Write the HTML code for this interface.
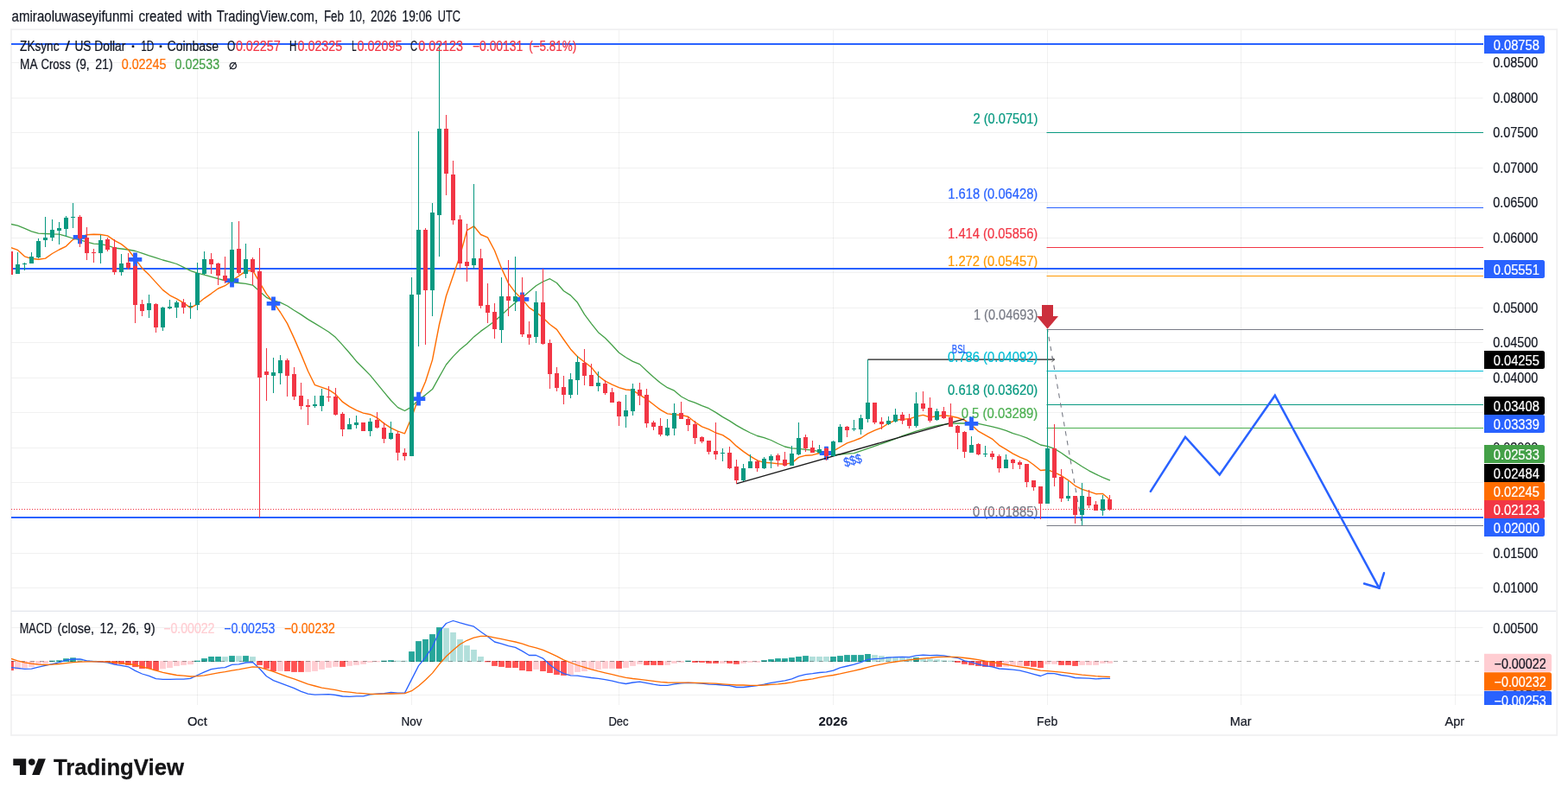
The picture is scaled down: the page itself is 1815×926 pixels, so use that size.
<!DOCTYPE html>
<html lang="en"><head><meta charset="utf-8"><title>ZKsync / US Dollar chart</title>
<style>html,body{margin:0;padding:0;background:#fff;}body{width:1815px;height:926px;overflow:hidden;font-family:"Liberation Sans", sans-serif;}svg{display:block}</style>
</head><body>
<svg width="1815" height="926" viewBox="0 0 1815 926" font-family='"Liberation Sans", sans-serif'><rect x="0" y="0" width="1815" height="926" fill="#ffffff"/>
<rect x="12.9" y="34.1" width="1789.3" height="816.9" fill="none" stroke="#f1f1f2" stroke-width="1.8"/>
<line x1="13.5" x2="1716.5" y1="680.50" y2="680.50" stroke="#000000" stroke-opacity="0.055" stroke-width="1.1"/>
<line x1="13.5" x2="1716.5" y1="640.50" y2="640.50" stroke="#000000" stroke-opacity="0.055" stroke-width="1.1"/>
<line x1="13.5" x2="1716.5" y1="599.50" y2="599.50" stroke="#000000" stroke-opacity="0.055" stroke-width="1.1"/>
<line x1="13.5" x2="1716.5" y1="558.50" y2="558.50" stroke="#000000" stroke-opacity="0.055" stroke-width="1.1"/>
<line x1="13.5" x2="1716.5" y1="518.50" y2="518.50" stroke="#000000" stroke-opacity="0.055" stroke-width="1.1"/>
<line x1="13.5" x2="1716.5" y1="477.50" y2="477.50" stroke="#000000" stroke-opacity="0.055" stroke-width="1.1"/>
<line x1="13.5" x2="1716.5" y1="437.50" y2="437.50" stroke="#000000" stroke-opacity="0.055" stroke-width="1.1"/>
<line x1="13.5" x2="1716.5" y1="396.50" y2="396.50" stroke="#000000" stroke-opacity="0.055" stroke-width="1.1"/>
<line x1="13.5" x2="1716.5" y1="356.50" y2="356.50" stroke="#000000" stroke-opacity="0.055" stroke-width="1.1"/>
<line x1="13.5" x2="1716.5" y1="315.50" y2="315.50" stroke="#000000" stroke-opacity="0.055" stroke-width="1.1"/>
<line x1="13.5" x2="1716.5" y1="275.50" y2="275.50" stroke="#000000" stroke-opacity="0.055" stroke-width="1.1"/>
<line x1="13.5" x2="1716.5" y1="234.50" y2="234.50" stroke="#000000" stroke-opacity="0.055" stroke-width="1.1"/>
<line x1="13.5" x2="1716.5" y1="194.50" y2="194.50" stroke="#000000" stroke-opacity="0.055" stroke-width="1.1"/>
<line x1="13.5" x2="1716.5" y1="153.50" y2="153.50" stroke="#000000" stroke-opacity="0.055" stroke-width="1.1"/>
<line x1="13.5" x2="1716.5" y1="113.50" y2="113.50" stroke="#000000" stroke-opacity="0.055" stroke-width="1.1"/>
<line x1="13.5" x2="1716.5" y1="72.50" y2="72.50" stroke="#000000" stroke-opacity="0.055" stroke-width="1.1"/>
<line x1="13.5" x2="1716.5" y1="726.50" y2="726.50" stroke="#000000" stroke-opacity="0.055" stroke-width="1.1"/>
<line x1="13.5" x2="1716.5" y1="804.50" y2="804.50" stroke="#000000" stroke-opacity="0.055" stroke-width="1.1"/>
<line x1="228.5" x2="228.5" y1="35" y2="816" stroke="#000000" stroke-opacity="0.055" stroke-width="1.1"/>
<line x1="476.5" x2="476.5" y1="35" y2="816" stroke="#000000" stroke-opacity="0.055" stroke-width="1.1"/>
<line x1="716.5" x2="716.5" y1="35" y2="816" stroke="#000000" stroke-opacity="0.055" stroke-width="1.1"/>
<line x1="964.5" x2="964.5" y1="35" y2="816" stroke="#000000" stroke-opacity="0.055" stroke-width="1.1"/>
<line x1="1212.5" x2="1212.5" y1="35" y2="816" stroke="#000000" stroke-opacity="0.055" stroke-width="1.1"/>
<line x1="1436.5" x2="1436.5" y1="35" y2="816" stroke="#000000" stroke-opacity="0.055" stroke-width="1.1"/>
<line x1="1684.5" x2="1684.5" y1="35" y2="816" stroke="#000000" stroke-opacity="0.055" stroke-width="1.1"/>
<line x1="12.9" x2="1801.2" y1="707.3" y2="707.3" stroke="#e3e5ec" stroke-width="1.2"/>
<defs><clipPath id="cm"><rect x="13" y="35" width="1704" height="672"/></clipPath><clipPath id="cd"><rect x="13" y="708" width="1704" height="108"/></clipPath></defs>
<g clip-path="url(#cm)">
<line x1="1004.5" y1="416.2" x2="1220.5" y2="416.2" stroke="#1c1c1c" stroke-width="1.3"/>
<path d="M1217.3 413.6L1220.8 416.2L1217.3 418.8" stroke="#444" stroke-width="0.9" fill="none"/>
<line x1="1211.5" x2="1717" y1="153.50" y2="153.50" stroke="#089981" stroke-width="1.1"/>
<line x1="1211.5" x2="1717" y1="240.50" y2="240.50" stroke="#2962ff" stroke-width="1.1"/>
<line x1="1211.5" x2="1717" y1="286.50" y2="286.50" stroke="#f23645" stroke-width="1.1"/>
<line x1="1211.5" x2="1717" y1="319.50" y2="319.50" stroke="#ff9800" stroke-width="1.1"/>
<line x1="1211.5" x2="1717" y1="381.50" y2="381.50" stroke="#787b86" stroke-width="1.1"/>
<line x1="1211.5" x2="1717" y1="429.50" y2="429.50" stroke="#00bcd4" stroke-width="1.1"/>
<line x1="1211.5" x2="1717" y1="468.50" y2="468.50" stroke="#089981" stroke-width="1.1"/>
<line x1="1211.5" x2="1717" y1="495.50" y2="495.50" stroke="#4caf50" stroke-width="1.1"/>
<line x1="1211.5" x2="1717" y1="608.50" y2="608.50" stroke="#787b86" stroke-width="1.1"/>
<line x1="1212.5" y1="381.5" x2="1252.5" y2="608.5" stroke="#787b86" stroke-width="1.1" stroke-dasharray="5.4,5.7" stroke-dashoffset="2.6"/>
<text x="1126.50" y="142.59" font-size="16" fill="#089981" textLength="74.86" lengthAdjust="spacingAndGlyphs"  stroke="#089981" stroke-width="0.22">2 (0.07501)</text>
<text x="1097.20" y="229.57" font-size="16" fill="#2962ff" textLength="104.10" lengthAdjust="spacingAndGlyphs"  stroke="#2962ff" stroke-width="0.22">1.618 (0.06428)</text>
<text x="1097.10" y="275.94" font-size="16" fill="#f23645" textLength="104.20" lengthAdjust="spacingAndGlyphs"  stroke="#f23645" stroke-width="0.22">1.414 (0.05856)</text>
<text x="1097.10" y="308.29" font-size="16" fill="#ff9800" textLength="104.20" lengthAdjust="spacingAndGlyphs"  stroke="#ff9800" stroke-width="0.22">1.272 (0.05457)</text>
<text x="1127.00" y="370.22" font-size="16" fill="#787b86" textLength="74.36" lengthAdjust="spacingAndGlyphs"  stroke="#787b86" stroke-width="0.22">1 (0.04693)</text>
<text x="1097.10" y="418.94" font-size="16" fill="#00bcd4" textLength="104.20" lengthAdjust="spacingAndGlyphs"  stroke="#00bcd4" stroke-width="0.22">0.786 (0.04092)</text>
<text x="1097.10" y="457.21" font-size="16" fill="#089981" textLength="104.20" lengthAdjust="spacingAndGlyphs"  stroke="#089981" stroke-width="0.22">0.618 (0.03620)</text>
<text x="1112.70" y="484.04" font-size="16" fill="#4caf50" textLength="88.57" lengthAdjust="spacingAndGlyphs"  stroke="#4caf50" stroke-width="0.22">0.5 (0.03289)</text>
<text x="1126.00" y="597.86" font-size="16" fill="#787b86" textLength="75.36" lengthAdjust="spacingAndGlyphs"  stroke="#787b86" stroke-width="0.22">0 (0.01885)</text>
<line x1="12" x2="1717" y1="51.00" y2="51.00" stroke="#2962ff" stroke-width="2.1"/>
<line x1="12" x2="1717" y1="311.00" y2="311.00" stroke="#2962ff" stroke-width="2.1"/>
<line x1="12" x2="1717" y1="599.00" y2="599.00" stroke="#2962ff" stroke-width="2.1"/>
<polyline points="12.5,259.4 20.5,261.2 28.5,264.3 36.5,267.8 44.5,270.1 52.5,270.5 60.5,270.9 68.5,271.1 76.5,273.4 84.5,276.0 92.5,277.7 100.5,280.2 108.5,282.2 116.5,282.6 124.5,284.1 132.5,287.0 140.5,288.0 148.5,289.0 156.5,290.5 164.5,293.1 172.5,295.8 180.5,298.3 188.5,301.0 196.5,303.2 204.5,305.5 212.5,309.4 220.5,313.3 228.5,316.2 236.5,318.1 244.5,320.3 252.5,322.6 260.5,324.9 268.5,326.8 276.5,327.5 284.5,328.4 292.5,330.1 300.5,337.2 308.5,344.3 316.5,347.9 324.5,350.2 332.5,354.0 340.5,359.2 348.5,364.1 356.5,369.6 364.5,374.4 372.5,379.3 380.5,384.2 388.5,390.6 396.5,399.4 404.5,408.5 412.5,418.2 420.5,426.3 428.5,434.4 436.5,444.1 444.5,453.8 452.5,463.5 460.5,471.6 468.5,475.5 476.5,470.9 484.5,462.8 492.5,457.1 500.5,450.6 508.5,436.1 516.5,422.0 524.5,412.6 532.5,404.5 540.5,398.0 548.5,389.9 556.5,383.4 564.5,377.8 572.5,371.7 580.5,364.8 588.5,357.1 596.5,350.3 604.5,344.4 612.5,337.6 620.5,330.8 628.5,326.0 636.5,322.7 644.5,327.5 652.5,336.7 660.5,341.9 668.5,350.3 676.5,363.9 684.5,374.6 692.5,384.7 700.5,391.2 708.5,399.5 716.5,408.3 724.5,413.8 732.5,418.4 740.5,421.6 748.5,429.2 756.5,436.4 764.5,443.2 772.5,448.7 780.5,452.2 788.5,459.0 796.5,463.3 804.5,466.2 812.5,469.6 820.5,472.7 828.5,477.4 836.5,482.6 844.5,487.1 852.5,492.4 860.5,496.9 868.5,501.0 876.5,504.5 884.5,506.6 892.5,509.5 900.5,513.5 908.5,517.0 916.5,518.8 924.5,519.4 932.5,520.3 940.5,521.2 948.5,522.7 956.5,525.4 964.5,526.7 972.5,526.0 980.5,525.2 988.5,524.6 996.5,521.9 1004.5,519.2 1012.5,516.4 1020.5,513.6 1028.5,510.8 1036.5,508.0 1044.5,504.7 1052.5,501.9 1060.5,499.2 1068.5,496.8 1076.5,494.7 1084.5,492.7 1092.5,491.3 1100.5,490.3 1108.5,490.0 1116.5,490.0 1124.5,490.0 1132.5,490.3 1148.5,493.8 1156.5,495.9 1164.5,498.3 1172.5,501.6 1180.5,504.0 1188.5,506.9 1196.5,510.8 1204.5,515.0 1212.5,516.6 1220.5,519.4 1228.5,524.3 1236.5,529.9 1244.5,534.8 1252.5,540.0 1260.5,544.8 1268.5,548.9 1276.5,552.6 1284.5,555.8" fill="none" stroke="#43a047" stroke-width="1.3" stroke-linejoin="round" stroke-linecap="round" />
<polyline points="12.5,286.5 20.5,289.4 28.5,296.8 36.5,299.3 44.5,300.3 52.5,299.1 60.5,293.5 68.5,289.0 76.5,285.1 84.5,277.3 92.5,274.6 100.5,271.7 108.5,271.3 116.5,271.5 124.5,272.9 132.5,278.3 140.5,282.6 148.5,289.0 156.5,299.7 164.5,310.4 172.5,318.1 180.5,326.9 188.5,335.6 196.5,341.8 204.5,345.9 212.5,350.6 220.5,356.4 228.5,351.8 236.5,345.3 244.5,339.8 252.5,334.0 260.5,330.7 268.5,324.9 276.5,319.4 284.5,313.9 292.5,312.9 300.5,326.8 308.5,340.4 316.5,350.2 324.5,361.5 332.5,374.4 340.5,391.6 348.5,410.1 356.5,429.5 364.5,445.7 372.5,448.3 380.5,451.2 388.5,456.4 396.5,465.2 404.5,470.7 412.5,474.9 420.5,478.1 428.5,479.7 436.5,483.6 444.5,490.1 452.5,495.3 460.5,499.2 468.5,501.8 476.5,483.0 484.5,460.4 492.5,441.7 500.5,416.6 508.5,375.5 516.5,342.5 524.5,319.2 532.5,295.8 540.5,266.7 548.5,261.8 556.5,271.5 564.5,274.8 572.5,290.0 580.5,310.4 588.5,327.9 596.5,338.6 604.5,346.4 612.5,356.1 620.5,361.3 628.5,367.8 636.5,375.5 644.5,381.4 652.5,393.0 660.5,404.2 668.5,412.8 676.5,419.0 684.5,425.1 692.5,435.0 700.5,441.1 708.5,445.2 716.5,448.7 724.5,451.0 732.5,451.8 740.5,456.9 748.5,462.1 756.5,468.2 764.5,474.4 772.5,478.9 780.5,479.9 788.5,480.5 796.5,482.2 804.5,488.7 812.5,493.8 820.5,496.9 828.5,501.0 836.5,503.7 844.5,508.8 852.5,516.4 860.5,522.6 868.5,528.1 876.5,532.8 884.5,535.3 892.5,535.9 900.5,536.8 908.5,537.3 916.5,535.9 924.5,529.4 932.5,527.2 940.5,526.7 948.5,524.5 956.5,523.4 964.5,522.1 972.5,517.5 980.5,512.9 988.5,510.2 996.5,507.0 1004.5,501.9 1012.5,498.2 1020.5,495.1 1028.5,490.0 1036.5,486.3 1044.5,485.4 1052.5,484.8 1060.5,482.1 1068.5,480.4 1076.5,483.0 1084.5,481.7 1092.5,480.8 1100.5,481.7 1108.5,483.5 1116.5,486.3 1124.5,491.8 1132.5,499.2 1148.5,508.1 1156.5,515.3 1164.5,520.2 1172.5,525.1 1180.5,529.1 1188.5,532.3 1196.5,538.0 1204.5,544.5 1212.5,543.7 1220.5,546.9 1228.5,550.5 1236.5,555.8 1244.5,562.3 1252.5,566.4 1260.5,568.8 1268.5,571.7 1276.5,571.5 1284.5,578.2" fill="none" stroke="#ff6d00" stroke-width="1.4" stroke-linejoin="round" stroke-linecap="round" />
<path d="M84.7 274.4H100.3M92.5 266.6V282.2" stroke="#2962ff" stroke-width="4.8" fill="none"/>
<path d="M148.7 300.3H164.3M156.5 292.5V308.1" stroke="#2962ff" stroke-width="4.8" fill="none"/>
<path d="M260.7 324.6H276.3M268.5 316.8V332.4" stroke="#2962ff" stroke-width="4.8" fill="none"/>
<path d="M308.7 351.4H324.3M316.5 343.6V359.2" stroke="#2962ff" stroke-width="4.8" fill="none"/>
<path d="M476.7 461.6H492.3M484.5 453.8V469.4" stroke="#2962ff" stroke-width="4.8" fill="none"/>
<path d="M596.7 346.4H612.3M604.5 338.6V354.2" stroke="#2962ff" stroke-width="4.8" fill="none"/>
<path d="M948.7 524.5H964.3M956.5 516.7V532.3" stroke="#2962ff" stroke-width="4.8" fill="none"/>
<path d="M1116.7 490.3H1132.3M1124.5 482.5V498.1" stroke="#2962ff" stroke-width="4.8" fill="none"/>
<line x1="852.5" y1="559.8" x2="1116.5" y2="484.8" stroke="#1c1c1c" stroke-width="1.3"/>
<rect x="11.98" y="291.0" width="1.04" height="27.0" fill="#f23645"/>
<rect x="10.0" y="291.0" width="5" height="27.0" fill="#f23645"/>
<rect x="19.98" y="292.0" width="1.04" height="25.0" fill="#089981"/>
<rect x="18.0" y="306.0" width="5" height="11.0" fill="#089981"/>
<rect x="27.98" y="304.0" width="1.04" height="9.0" fill="#089981"/>
<rect x="26.0" y="305.0" width="5" height="1.0" fill="#089981"/>
<rect x="35.98" y="292.0" width="1.04" height="13.0" fill="#089981"/>
<rect x="34.0" y="297.0" width="5" height="8.0" fill="#089981"/>
<rect x="43.98" y="276.0" width="1.04" height="23.0" fill="#089981"/>
<rect x="42.0" y="279.0" width="5" height="19.0" fill="#089981"/>
<rect x="51.98" y="251.0" width="1.04" height="35.0" fill="#089981"/>
<rect x="50.0" y="275.0" width="5" height="3.0" fill="#089981"/>
<rect x="59.98" y="254.0" width="1.04" height="25.0" fill="#089981"/>
<rect x="58.0" y="266.0" width="5" height="9.0" fill="#089981"/>
<rect x="67.98" y="257.0" width="1.04" height="26.0" fill="#089981"/>
<rect x="66.0" y="264.0" width="5" height="3.0" fill="#089981"/>
<rect x="75.98" y="250.0" width="1.04" height="24.0" fill="#089981"/>
<rect x="74.0" y="252.0" width="5" height="13.0" fill="#089981"/>
<rect x="83.98" y="235.0" width="1.04" height="29.0" fill="#089981"/>
<rect x="82.0" y="251.0" width="5" height="1.0" fill="#089981"/>
<rect x="91.98" y="249.0" width="1.04" height="37.0" fill="#f23645"/>
<rect x="90.0" y="251.0" width="5" height="25.0" fill="#f23645"/>
<rect x="99.98" y="263.0" width="1.04" height="38.0" fill="#f23645"/>
<rect x="98.0" y="275.0" width="5" height="18.0" fill="#f23645"/>
<rect x="107.98" y="288.0" width="1.04" height="16.0" fill="#f23645"/>
<rect x="106.0" y="292.0" width="5" height="1.0" fill="#f23645"/>
<rect x="115.98" y="272.0" width="1.04" height="33.0" fill="#089981"/>
<rect x="114.0" y="278.0" width="5" height="15.0" fill="#089981"/>
<rect x="123.98" y="275.0" width="1.04" height="16.0" fill="#f23645"/>
<rect x="122.0" y="277.0" width="5" height="12.0" fill="#f23645"/>
<rect x="131.98" y="277.0" width="1.04" height="41.0" fill="#f23645"/>
<rect x="130.0" y="286.0" width="5" height="29.0" fill="#f23645"/>
<rect x="139.98" y="294.0" width="1.04" height="25.0" fill="#089981"/>
<rect x="138.0" y="305.0" width="5" height="10.0" fill="#089981"/>
<rect x="147.98" y="293.0" width="1.04" height="19.0" fill="#f23645"/>
<rect x="146.0" y="304.0" width="5" height="6.0" fill="#f23645"/>
<rect x="155.98" y="306.0" width="1.04" height="68.0" fill="#f23645"/>
<rect x="154.0" y="308.0" width="5" height="45.0" fill="#f23645"/>
<rect x="163.98" y="347.0" width="1.04" height="19.0" fill="#f23645"/>
<rect x="162.0" y="352.0" width="5" height="8.0" fill="#f23645"/>
<rect x="171.98" y="341.0" width="1.04" height="27.0" fill="#089981"/>
<rect x="170.0" y="351.0" width="5" height="8.0" fill="#089981"/>
<rect x="179.98" y="351.0" width="1.04" height="34.0" fill="#f23645"/>
<rect x="178.0" y="352.0" width="5" height="27.0" fill="#f23645"/>
<rect x="187.98" y="355.0" width="1.04" height="28.0" fill="#089981"/>
<rect x="186.0" y="356.0" width="5" height="23.0" fill="#089981"/>
<rect x="195.98" y="347.0" width="1.04" height="11.0" fill="#089981"/>
<rect x="194.0" y="355.0" width="5" height="2.0" fill="#089981"/>
<rect x="203.98" y="348.0" width="1.04" height="20.0" fill="#089981"/>
<rect x="202.0" y="350.0" width="5" height="6.0" fill="#089981"/>
<rect x="211.98" y="346.0" width="1.04" height="17.0" fill="#f23645"/>
<rect x="210.0" y="350.0" width="5" height="6.0" fill="#f23645"/>
<rect x="219.98" y="350.0" width="1.04" height="19.0" fill="#089981"/>
<rect x="218.0" y="354.0" width="5" height="1.0" fill="#089981"/>
<rect x="227.98" y="304.0" width="1.04" height="55.0" fill="#089981"/>
<rect x="226.0" y="316.0" width="5" height="37.0" fill="#089981"/>
<rect x="235.98" y="291.0" width="1.04" height="27.0" fill="#089981"/>
<rect x="234.0" y="300.0" width="5" height="17.0" fill="#089981"/>
<rect x="243.98" y="293.0" width="1.04" height="24.0" fill="#f23645"/>
<rect x="242.0" y="300.0" width="5" height="6.0" fill="#f23645"/>
<rect x="251.98" y="304.0" width="1.04" height="26.0" fill="#f23645"/>
<rect x="250.0" y="305.0" width="5" height="14.0" fill="#f23645"/>
<rect x="259.98" y="297.0" width="1.04" height="31.0" fill="#f23645"/>
<rect x="258.0" y="319.0" width="5" height="6.0" fill="#f23645"/>
<rect x="267.98" y="257.0" width="1.04" height="70.0" fill="#089981"/>
<rect x="266.0" y="289.0" width="5" height="37.0" fill="#089981"/>
<rect x="275.98" y="256.0" width="1.04" height="62.0" fill="#f23645"/>
<rect x="274.0" y="288.0" width="5" height="28.0" fill="#f23645"/>
<rect x="283.98" y="282.0" width="1.04" height="40.0" fill="#089981"/>
<rect x="282.0" y="300.0" width="5" height="17.0" fill="#089981"/>
<rect x="291.98" y="298.0" width="1.04" height="32.0" fill="#f23645"/>
<rect x="290.0" y="300.0" width="5" height="15.0" fill="#f23645"/>
<rect x="299.98" y="287.0" width="1.04" height="312.0" fill="#f23645"/>
<rect x="298.0" y="314.0" width="5" height="123.0" fill="#f23645"/>
<rect x="307.98" y="403.0" width="1.04" height="61.0" fill="#f23645"/>
<rect x="306.0" y="430.0" width="5" height="4.0" fill="#f23645"/>
<rect x="315.98" y="414.0" width="1.04" height="41.0" fill="#089981"/>
<rect x="314.0" y="431.0" width="5" height="4.0" fill="#089981"/>
<rect x="323.98" y="411.0" width="1.04" height="34.0" fill="#089981"/>
<rect x="322.0" y="417.0" width="5" height="15.0" fill="#089981"/>
<rect x="331.98" y="415.0" width="1.04" height="44.0" fill="#f23645"/>
<rect x="330.0" y="417.0" width="5" height="18.0" fill="#f23645"/>
<rect x="339.98" y="425.0" width="1.04" height="38.0" fill="#f23645"/>
<rect x="338.0" y="433.0" width="5" height="26.0" fill="#f23645"/>
<rect x="347.98" y="443.0" width="1.04" height="31.0" fill="#f23645"/>
<rect x="346.0" y="458.0" width="5" height="12.0" fill="#f23645"/>
<rect x="355.98" y="462.0" width="1.04" height="30.0" fill="#f23645"/>
<rect x="354.0" y="469.0" width="5" height="2.0" fill="#f23645"/>
<rect x="363.98" y="458.0" width="1.04" height="14.0" fill="#089981"/>
<rect x="362.0" y="468.0" width="5" height="2.0" fill="#089981"/>
<rect x="371.98" y="450.0" width="1.04" height="26.0" fill="#089981"/>
<rect x="370.0" y="458.0" width="5" height="12.0" fill="#089981"/>
<rect x="379.98" y="447.0" width="1.04" height="18.0" fill="#f23645"/>
<rect x="378.0" y="459.0" width="5" height="1.0" fill="#f23645"/>
<rect x="387.98" y="449.0" width="1.04" height="32.0" fill="#f23645"/>
<rect x="386.0" y="459.0" width="5" height="21.0" fill="#f23645"/>
<rect x="395.98" y="477.0" width="1.04" height="28.0" fill="#f23645"/>
<rect x="394.0" y="479.0" width="5" height="18.0" fill="#f23645"/>
<rect x="403.98" y="484.0" width="1.04" height="13.0" fill="#089981"/>
<rect x="402.0" y="491.0" width="5" height="6.0" fill="#089981"/>
<rect x="411.98" y="481.0" width="1.04" height="15.0" fill="#089981"/>
<rect x="410.0" y="489.0" width="5" height="3.0" fill="#089981"/>
<rect x="419.98" y="489.0" width="1.04" height="10.0" fill="#f23645"/>
<rect x="418.0" y="489.0" width="5" height="10.0" fill="#f23645"/>
<rect x="427.98" y="484.0" width="1.04" height="21.0" fill="#089981"/>
<rect x="426.0" y="488.0" width="5" height="11.0" fill="#089981"/>
<rect x="435.98" y="477.0" width="1.04" height="19.0" fill="#f23645"/>
<rect x="434.0" y="486.0" width="5" height="9.0" fill="#f23645"/>
<rect x="443.98" y="489.0" width="1.04" height="24.0" fill="#f23645"/>
<rect x="442.0" y="495.0" width="5" height="13.0" fill="#f23645"/>
<rect x="451.98" y="488.0" width="1.04" height="21.0" fill="#089981"/>
<rect x="450.0" y="501.0" width="5" height="7.0" fill="#089981"/>
<rect x="459.98" y="499.0" width="1.04" height="34.0" fill="#f23645"/>
<rect x="458.0" y="502.0" width="5" height="22.0" fill="#f23645"/>
<rect x="467.98" y="519.0" width="1.04" height="14.0" fill="#f23645"/>
<rect x="466.0" y="524.0" width="5" height="4.0" fill="#f23645"/>
<rect x="475.98" y="321.0" width="1.04" height="207.0" fill="#089981"/>
<rect x="474.0" y="341.0" width="5" height="187.0" fill="#089981"/>
<rect x="483.98" y="152.0" width="1.04" height="249.0" fill="#089981"/>
<rect x="482.0" y="266.0" width="5" height="75.0" fill="#089981"/>
<rect x="491.98" y="264.0" width="1.04" height="135.0" fill="#f23645"/>
<rect x="490.0" y="266.0" width="5" height="70.0" fill="#f23645"/>
<rect x="499.98" y="235.0" width="1.04" height="131.0" fill="#089981"/>
<rect x="498.0" y="246.0" width="5" height="90.0" fill="#089981"/>
<rect x="507.98" y="51.0" width="1.04" height="246.0" fill="#089981"/>
<rect x="506.0" y="149.0" width="5" height="100.0" fill="#089981"/>
<rect x="515.98" y="133.0" width="1.04" height="93.0" fill="#f23645"/>
<rect x="514.0" y="149.0" width="5" height="52.0" fill="#f23645"/>
<rect x="523.98" y="186.0" width="1.04" height="74.0" fill="#f23645"/>
<rect x="522.0" y="202.0" width="5" height="53.0" fill="#f23645"/>
<rect x="531.98" y="249.0" width="1.04" height="62.0" fill="#f23645"/>
<rect x="530.0" y="254.0" width="5" height="51.0" fill="#f23645"/>
<rect x="539.98" y="259.0" width="1.04" height="67.0" fill="#f23645"/>
<rect x="538.0" y="303.0" width="5" height="5.0" fill="#f23645"/>
<rect x="547.98" y="213.0" width="1.04" height="98.0" fill="#089981"/>
<rect x="546.0" y="299.0" width="5" height="8.0" fill="#089981"/>
<rect x="555.98" y="288.0" width="1.04" height="69.0" fill="#f23645"/>
<rect x="554.0" y="299.0" width="5" height="55.0" fill="#f23645"/>
<rect x="563.98" y="328.0" width="1.04" height="46.0" fill="#f23645"/>
<rect x="562.0" y="353.0" width="5" height="9.0" fill="#f23645"/>
<rect x="571.98" y="351.0" width="1.04" height="41.0" fill="#f23645"/>
<rect x="570.0" y="361.0" width="5" height="20.0" fill="#f23645"/>
<rect x="579.98" y="321.0" width="1.04" height="76.0" fill="#089981"/>
<rect x="578.0" y="343.0" width="5" height="39.0" fill="#089981"/>
<rect x="587.98" y="301.0" width="1.04" height="65.0" fill="#f23645"/>
<rect x="586.0" y="343.0" width="5" height="5.0" fill="#f23645"/>
<rect x="595.98" y="297.0" width="1.04" height="63.0" fill="#089981"/>
<rect x="594.0" y="343.0" width="5" height="6.0" fill="#089981"/>
<rect x="603.98" y="321.0" width="1.04" height="69.0" fill="#f23645"/>
<rect x="602.0" y="341.0" width="5" height="46.0" fill="#f23645"/>
<rect x="611.98" y="372.0" width="1.04" height="27.0" fill="#f23645"/>
<rect x="610.0" y="387.0" width="5" height="4.0" fill="#f23645"/>
<rect x="619.98" y="337.0" width="1.04" height="60.0" fill="#089981"/>
<rect x="618.0" y="350.0" width="5" height="40.0" fill="#089981"/>
<rect x="627.98" y="311.0" width="1.04" height="88.0" fill="#f23645"/>
<rect x="626.0" y="350.0" width="5" height="48.0" fill="#f23645"/>
<rect x="635.98" y="393.0" width="1.04" height="57.0" fill="#f23645"/>
<rect x="634.0" y="397.0" width="5" height="36.0" fill="#f23645"/>
<rect x="643.98" y="425.0" width="1.04" height="28.0" fill="#f23645"/>
<rect x="642.0" y="432.0" width="5" height="17.0" fill="#f23645"/>
<rect x="651.98" y="435.0" width="1.04" height="33.0" fill="#f23645"/>
<rect x="650.0" y="448.0" width="5" height="9.0" fill="#f23645"/>
<rect x="659.98" y="432.0" width="1.04" height="29.0" fill="#089981"/>
<rect x="658.0" y="439.0" width="5" height="18.0" fill="#089981"/>
<rect x="667.98" y="412.0" width="1.04" height="45.0" fill="#089981"/>
<rect x="666.0" y="419.0" width="5" height="21.0" fill="#089981"/>
<rect x="675.98" y="404.0" width="1.04" height="42.0" fill="#f23645"/>
<rect x="674.0" y="420.0" width="5" height="15.0" fill="#f23645"/>
<rect x="683.98" y="421.0" width="1.04" height="26.0" fill="#f23645"/>
<rect x="682.0" y="434.0" width="5" height="13.0" fill="#f23645"/>
<rect x="691.98" y="430.0" width="1.04" height="23.0" fill="#089981"/>
<rect x="690.0" y="443.0" width="5" height="4.0" fill="#089981"/>
<rect x="699.98" y="440.0" width="1.04" height="17.0" fill="#f23645"/>
<rect x="698.0" y="444.0" width="5" height="11.0" fill="#f23645"/>
<rect x="707.98" y="449.0" width="1.04" height="17.0" fill="#f23645"/>
<rect x="706.0" y="454.0" width="5" height="12.0" fill="#f23645"/>
<rect x="715.98" y="464.0" width="1.04" height="29.0" fill="#f23645"/>
<rect x="714.0" y="465.0" width="5" height="17.0" fill="#f23645"/>
<rect x="723.98" y="457.0" width="1.04" height="38.0" fill="#089981"/>
<rect x="722.0" y="475.0" width="5" height="7.0" fill="#089981"/>
<rect x="731.98" y="444.0" width="1.04" height="37.0" fill="#089981"/>
<rect x="730.0" y="450.0" width="5" height="26.0" fill="#089981"/>
<rect x="739.98" y="443.0" width="1.04" height="26.0" fill="#f23645"/>
<rect x="738.0" y="451.0" width="5" height="7.0" fill="#f23645"/>
<rect x="747.98" y="450.0" width="1.04" height="45.0" fill="#f23645"/>
<rect x="746.0" y="457.0" width="5" height="33.0" fill="#f23645"/>
<rect x="755.98" y="487.0" width="1.04" height="11.0" fill="#f23645"/>
<rect x="754.0" y="489.0" width="5" height="5.0" fill="#f23645"/>
<rect x="763.98" y="484.0" width="1.04" height="21.0" fill="#f23645"/>
<rect x="762.0" y="493.0" width="5" height="10.0" fill="#f23645"/>
<rect x="771.98" y="485.0" width="1.04" height="20.0" fill="#089981"/>
<rect x="770.0" y="495.0" width="5" height="9.0" fill="#089981"/>
<rect x="779.98" y="467.0" width="1.04" height="37.0" fill="#089981"/>
<rect x="778.0" y="478.0" width="5" height="18.0" fill="#089981"/>
<rect x="787.98" y="465.0" width="1.04" height="20.0" fill="#f23645"/>
<rect x="786.0" y="478.0" width="5" height="7.0" fill="#f23645"/>
<rect x="795.98" y="482.0" width="1.04" height="17.0" fill="#f23645"/>
<rect x="794.0" y="485.0" width="5" height="7.0" fill="#f23645"/>
<rect x="803.98" y="487.0" width="1.04" height="27.0" fill="#f23645"/>
<rect x="802.0" y="491.0" width="5" height="16.0" fill="#f23645"/>
<rect x="811.98" y="505.0" width="1.04" height="8.0" fill="#f23645"/>
<rect x="810.0" y="506.0" width="5" height="5.0" fill="#f23645"/>
<rect x="819.98" y="510.0" width="1.04" height="16.0" fill="#f23645"/>
<rect x="818.0" y="510.0" width="5" height="13.0" fill="#f23645"/>
<rect x="827.98" y="489.0" width="1.04" height="43.0" fill="#f23645"/>
<rect x="826.0" y="522.0" width="5" height="4.0" fill="#f23645"/>
<rect x="835.98" y="519.0" width="1.04" height="15.0" fill="#089981"/>
<rect x="834.0" y="524.0" width="5" height="1.0" fill="#089981"/>
<rect x="843.98" y="517.0" width="1.04" height="26.0" fill="#f23645"/>
<rect x="842.0" y="524.0" width="5" height="18.0" fill="#f23645"/>
<rect x="851.98" y="532.0" width="1.04" height="28.0" fill="#f23645"/>
<rect x="850.0" y="540.0" width="5" height="16.0" fill="#f23645"/>
<rect x="859.98" y="537.0" width="1.04" height="20.0" fill="#089981"/>
<rect x="858.0" y="542.0" width="5" height="14.0" fill="#089981"/>
<rect x="867.98" y="526.0" width="1.04" height="16.0" fill="#089981"/>
<rect x="866.0" y="534.0" width="5" height="8.0" fill="#089981"/>
<rect x="875.98" y="532.0" width="1.04" height="14.0" fill="#f23645"/>
<rect x="874.0" y="534.0" width="5" height="8.0" fill="#f23645"/>
<rect x="883.98" y="529.0" width="1.04" height="14.0" fill="#089981"/>
<rect x="882.0" y="531.0" width="5" height="11.0" fill="#089981"/>
<rect x="891.98" y="526.0" width="1.04" height="16.0" fill="#089981"/>
<rect x="890.0" y="528.0" width="5" height="5.0" fill="#089981"/>
<rect x="899.98" y="525.0" width="1.04" height="15.0" fill="#f23645"/>
<rect x="898.0" y="527.0" width="5" height="6.0" fill="#f23645"/>
<rect x="907.98" y="523.0" width="1.04" height="17.0" fill="#f23645"/>
<rect x="906.0" y="532.0" width="5" height="7.0" fill="#f23645"/>
<rect x="915.98" y="516.0" width="1.04" height="23.0" fill="#089981"/>
<rect x="914.0" y="525.0" width="5" height="14.0" fill="#089981"/>
<rect x="923.98" y="489.0" width="1.04" height="38.0" fill="#089981"/>
<rect x="922.0" y="507.0" width="5" height="19.0" fill="#089981"/>
<rect x="931.98" y="503.0" width="1.04" height="20.0" fill="#f23645"/>
<rect x="930.0" y="506.0" width="5" height="13.0" fill="#f23645"/>
<rect x="939.98" y="510.0" width="1.04" height="14.0" fill="#f23645"/>
<rect x="938.0" y="518.0" width="5" height="6.0" fill="#f23645"/>
<rect x="947.98" y="515.0" width="1.04" height="10.0" fill="#089981"/>
<rect x="946.0" y="520.0" width="5" height="4.0" fill="#089981"/>
<rect x="955.98" y="518.0" width="1.04" height="15.0" fill="#f23645"/>
<rect x="954.0" y="519.0" width="5" height="9.0" fill="#f23645"/>
<rect x="963.98" y="510.0" width="1.04" height="18.0" fill="#089981"/>
<rect x="962.0" y="511.0" width="5" height="17.0" fill="#089981"/>
<rect x="971.98" y="491.0" width="1.04" height="21.0" fill="#089981"/>
<rect x="970.0" y="494.0" width="5" height="18.0" fill="#089981"/>
<rect x="979.98" y="493.0" width="1.04" height="13.0" fill="#f23645"/>
<rect x="978.0" y="494.0" width="5" height="4.0" fill="#f23645"/>
<rect x="987.98" y="486.0" width="1.04" height="13.0" fill="#089981"/>
<rect x="986.0" y="496.0" width="5" height="1.0" fill="#089981"/>
<rect x="995.98" y="480.0" width="1.04" height="23.0" fill="#089981"/>
<rect x="994.0" y="484.0" width="5" height="13.0" fill="#089981"/>
<rect x="1003.98" y="416.0" width="1.04" height="73.0" fill="#089981"/>
<rect x="1002.0" y="466.0" width="5" height="19.0" fill="#089981"/>
<rect x="1011.98" y="466.0" width="1.04" height="25.0" fill="#f23645"/>
<rect x="1010.0" y="466.0" width="5" height="23.0" fill="#f23645"/>
<rect x="1019.98" y="483.0" width="1.04" height="14.0" fill="#f23645"/>
<rect x="1018.0" y="488.0" width="5" height="3.0" fill="#f23645"/>
<rect x="1027.98" y="482.0" width="1.04" height="10.0" fill="#089981"/>
<rect x="1026.0" y="487.0" width="5" height="4.0" fill="#089981"/>
<rect x="1035.98" y="473.0" width="1.04" height="16.0" fill="#089981"/>
<rect x="1034.0" y="480.0" width="5" height="8.0" fill="#089981"/>
<rect x="1043.98" y="477.0" width="1.04" height="14.0" fill="#f23645"/>
<rect x="1042.0" y="480.0" width="5" height="7.0" fill="#f23645"/>
<rect x="1051.98" y="479.0" width="1.04" height="17.0" fill="#f23645"/>
<rect x="1050.0" y="485.0" width="5" height="8.0" fill="#f23645"/>
<rect x="1059.98" y="454.0" width="1.04" height="41.0" fill="#089981"/>
<rect x="1058.0" y="467.0" width="5" height="26.0" fill="#089981"/>
<rect x="1067.98" y="453.0" width="1.04" height="23.0" fill="#f23645"/>
<rect x="1066.0" y="467.0" width="5" height="6.0" fill="#f23645"/>
<rect x="1075.98" y="460.0" width="1.04" height="29.0" fill="#f23645"/>
<rect x="1074.0" y="472.0" width="5" height="15.0" fill="#f23645"/>
<rect x="1083.98" y="473.0" width="1.04" height="14.0" fill="#089981"/>
<rect x="1082.0" y="476.0" width="5" height="10.0" fill="#089981"/>
<rect x="1091.98" y="471.0" width="1.04" height="14.0" fill="#f23645"/>
<rect x="1090.0" y="476.0" width="5" height="8.0" fill="#f23645"/>
<rect x="1099.98" y="467.0" width="1.04" height="27.0" fill="#f23645"/>
<rect x="1098.0" y="483.0" width="5" height="11.0" fill="#f23645"/>
<rect x="1107.98" y="492.0" width="1.04" height="28.0" fill="#f23645"/>
<rect x="1106.0" y="493.0" width="5" height="8.0" fill="#f23645"/>
<rect x="1115.98" y="499.0" width="1.04" height="31.0" fill="#f23645"/>
<rect x="1114.0" y="500.0" width="5" height="23.0" fill="#f23645"/>
<rect x="1123.98" y="505.0" width="1.04" height="19.0" fill="#089981"/>
<rect x="1122.0" y="515.0" width="5" height="9.0" fill="#089981"/>
<rect x="1131.98" y="513.0" width="1.04" height="14.0" fill="#f23645"/>
<rect x="1130.0" y="514.0" width="5" height="12.0" fill="#f23645"/>
<rect x="1139.98" y="516.0" width="1.04" height="13.0" fill="#089981"/>
<rect x="1138.0" y="525.0" width="5" height="1.0" fill="#089981"/>
<rect x="1147.98" y="522.0" width="1.04" height="10.0" fill="#f23645"/>
<rect x="1146.0" y="525.0" width="5" height="4.0" fill="#f23645"/>
<rect x="1155.98" y="526.0" width="1.04" height="21.0" fill="#f23645"/>
<rect x="1154.0" y="528.0" width="5" height="14.0" fill="#f23645"/>
<rect x="1163.98" y="526.0" width="1.04" height="16.0" fill="#089981"/>
<rect x="1162.0" y="532.0" width="5" height="10.0" fill="#089981"/>
<rect x="1171.98" y="531.0" width="1.04" height="12.0" fill="#f23645"/>
<rect x="1170.0" y="532.0" width="5" height="4.0" fill="#f23645"/>
<rect x="1179.98" y="533.0" width="1.04" height="10.0" fill="#f23645"/>
<rect x="1178.0" y="535.0" width="5" height="3.0" fill="#f23645"/>
<rect x="1187.98" y="537.0" width="1.04" height="27.0" fill="#f23645"/>
<rect x="1186.0" y="537.0" width="5" height="21.0" fill="#f23645"/>
<rect x="1195.98" y="556.0" width="1.04" height="12.0" fill="#f23645"/>
<rect x="1194.0" y="556.0" width="5" height="8.0" fill="#f23645"/>
<rect x="1203.98" y="563.0" width="1.04" height="38.0" fill="#f23645"/>
<rect x="1202.0" y="563.0" width="5" height="20.0" fill="#f23645"/>
<rect x="1211.98" y="381.0" width="1.04" height="202.0" fill="#089981"/>
<rect x="1210.0" y="519.0" width="5" height="64.0" fill="#089981"/>
<rect x="1219.98" y="491.0" width="1.04" height="72.0" fill="#f23645"/>
<rect x="1218.0" y="519.0" width="5" height="34.0" fill="#f23645"/>
<rect x="1227.98" y="543.0" width="1.04" height="38.0" fill="#f23645"/>
<rect x="1226.0" y="552.0" width="5" height="25.0" fill="#f23645"/>
<rect x="1235.98" y="557.0" width="1.04" height="23.0" fill="#089981"/>
<rect x="1234.0" y="574.0" width="5" height="3.0" fill="#089981"/>
<rect x="1243.98" y="574.0" width="1.04" height="32.0" fill="#f23645"/>
<rect x="1242.0" y="574.0" width="5" height="22.0" fill="#f23645"/>
<rect x="1251.98" y="559.0" width="1.04" height="49.0" fill="#089981"/>
<rect x="1250.0" y="574.0" width="5" height="22.0" fill="#089981"/>
<rect x="1259.98" y="567.0" width="1.04" height="21.0" fill="#f23645"/>
<rect x="1258.0" y="575.0" width="5" height="10.0" fill="#f23645"/>
<rect x="1267.98" y="580.0" width="1.04" height="11.0" fill="#f23645"/>
<rect x="1266.0" y="584.0" width="5" height="7.0" fill="#f23645"/>
<rect x="1275.98" y="573.0" width="1.04" height="24.0" fill="#089981"/>
<rect x="1274.0" y="578.0" width="5" height="13.0" fill="#089981"/>
<rect x="1283.98" y="573.0" width="1.04" height="18.0" fill="#f23645"/>
<rect x="1282.0" y="578.0" width="5" height="12.0" fill="#f23645"/>
<line x1="13" x2="1717" y1="589.5" y2="589.5" stroke="#f23645" stroke-width="1.15" stroke-dasharray="1.1,1.9"/>
<text x="1101.80" y="408.60" font-size="13.8" fill="#2962ff" textLength="18.00" lengthAdjust="spacingAndGlyphs"  stroke="#2962ff" stroke-width="0.22">BSL</text>
<text x="976.50" y="538.00" font-size="15" fill="#2962ff" textLength="21.18" lengthAdjust="spacingAndGlyphs" transform="rotate(-15.5 987.1 533)" stroke="#2962ff" stroke-width="0.22">$$$</text>
<path d="M1206 353H1219V366H1225L1212.5 380.8L1200 366H1206Z" fill="#cc2f3c"/>
<polyline points="1331.8,568.8 1372,505.8 1411.7,549.5 1475.8,457.7 1596.5,680.8" fill="none" stroke="#2962ff" stroke-width="2.5" stroke-linejoin="miter" stroke-linecap="round"/>
<polyline points="1579,675.5 1596.5,680.8 1602,663.3" fill="none" stroke="#2962ff" stroke-width="2.5" stroke-linejoin="miter" stroke-linecap="round"/>
</g>
<text y="58.90" font-size="16" fill="#131722" stroke="#131722" stroke-width="0.22"><tspan x="23.10" textLength="45.35" lengthAdjust="spacingAndGlyphs">ZKsync</tspan> <tspan x="75.60" textLength="5.36" lengthAdjust="spacingAndGlyphs">/</tspan> <tspan x="86.40" textLength="58.88" lengthAdjust="spacingAndGlyphs">US Dollar</tspan> <tspan x="151.80" font-weight="bold">·</tspan> <tspan x="163.20" textLength="14.98" lengthAdjust="spacingAndGlyphs">1D</tspan> <tspan x="183.70" font-weight="bold">·</tspan> <tspan x="193.60" textLength="59.47" lengthAdjust="spacingAndGlyphs">Coinbase</tspan> <tspan x="262.90" textLength="9.37" lengthAdjust="spacingAndGlyphs">O</tspan><tspan x="272.90" textLength="51.86" lengthAdjust="spacingAndGlyphs" fill="#f23645" stroke="#f23645">0.02257</tspan> <tspan x="334.90" textLength="8.33" lengthAdjust="spacingAndGlyphs">H</tspan><tspan x="344.60" textLength="51.46" lengthAdjust="spacingAndGlyphs" fill="#f23645" stroke="#f23645">0.02325</tspan> <tspan x="407.20" textLength="5.36" lengthAdjust="spacingAndGlyphs">L</tspan><tspan x="413.60" textLength="51.96" lengthAdjust="spacingAndGlyphs" fill="#f23645" stroke="#f23645">0.02095</tspan> <tspan x="475.10" textLength="8.12" lengthAdjust="spacingAndGlyphs">C</tspan><tspan x="484.20" textLength="51.86" lengthAdjust="spacingAndGlyphs" fill="#f23645" stroke="#f23645">0.02123</tspan> <tspan x="547.00" textLength="58.18" lengthAdjust="spacingAndGlyphs" fill="#f23645" stroke="#f23645">−0.00131</tspan> <tspan x="612.20" textLength="55.04" lengthAdjust="spacingAndGlyphs" fill="#f23645" stroke="#f23645">(−5.81%)</tspan></text>
<text y="80.00" font-size="16" fill="#131722" stroke="#131722" stroke-width="0.22"><tspan x="23.10" textLength="19.70" lengthAdjust="spacingAndGlyphs">MA</tspan> <tspan x="47.50" textLength="34.22" lengthAdjust="spacingAndGlyphs">Cross</tspan> <tspan x="87.70" textLength="15.96" lengthAdjust="spacingAndGlyphs">(9,</tspan> <tspan x="110.20" textLength="20.53" lengthAdjust="spacingAndGlyphs">21)</tspan> <tspan x="140.80" textLength="51.56" lengthAdjust="spacingAndGlyphs" fill="#ff6d00" stroke="#ff6d00">0.02245</tspan> <tspan x="202.60" textLength="51.46" lengthAdjust="spacingAndGlyphs" fill="#43a047" stroke="#43a047">0.02533</tspan></text>
<text y="733.20" font-size="16" fill="#131722" stroke="#131722" stroke-width="0.22"><tspan x="22.70" textLength="37.36" lengthAdjust="spacingAndGlyphs">MACD</tspan> <tspan x="66.40" textLength="42.53" lengthAdjust="spacingAndGlyphs">(close,</tspan> <tspan x="115.50" textLength="20.00" lengthAdjust="spacingAndGlyphs">12,</tspan> <tspan x="141.00" textLength="20.00" lengthAdjust="spacingAndGlyphs">26,</tspan> <tspan x="166.40" textLength="13.19" lengthAdjust="spacingAndGlyphs">9)</tspan> <tspan x="189.20" textLength="59.28" lengthAdjust="spacingAndGlyphs" fill="#ffcdd2" stroke="#ffcdd2">−0.00022</tspan> <tspan x="259.20" textLength="59.28" lengthAdjust="spacingAndGlyphs" fill="#2962ff" stroke="#2962ff">−0.00253</tspan> <tspan x="328.90" textLength="58.98" lengthAdjust="spacingAndGlyphs" fill="#ff6d00" stroke="#ff6d00">−0.00232</tspan></text>
<g clip-path="url(#cd)">
<rect x="9.1" y="765.0" width="6.8" height="11.1" fill="#ff5252"/>
<rect x="17.1" y="765.0" width="6.8" height="9.9" fill="#ffcdd2"/>
<rect x="25.1" y="765.0" width="6.8" height="8.3" fill="#ffcdd2"/>
<rect x="33.1" y="765.0" width="6.8" height="7.1" fill="#ffcdd2"/>
<rect x="41.1" y="765.0" width="6.8" height="5.0" fill="#ffcdd2"/>
<rect x="49.1" y="765.0" width="6.8" height="3.2" fill="#ffcdd2"/>
<rect x="57.1" y="764.7" width="6.8" height="1.3" fill="#26a69a"/>
<rect x="65.1" y="764.3" width="6.8" height="1.7" fill="#26a69a"/>
<rect x="73.1" y="762.2" width="6.8" height="3.8" fill="#26a69a"/>
<rect x="81.1" y="761.3" width="6.8" height="4.7" fill="#26a69a"/>
<rect x="89.1" y="762.5" width="6.8" height="3.5" fill="#b2dfdb"/>
<rect x="97.1" y="764.3" width="6.8" height="1.7" fill="#b2dfdb"/>
<rect x="105.1" y="764.7" width="6.8" height="1.3" fill="#b2dfdb"/>
<rect x="113.1" y="765.0" width="6.8" height="1.3" fill="#ff5252"/>
<rect x="121.1" y="765.0" width="6.8" height="1.8" fill="#ff5252"/>
<rect x="129.1" y="765.0" width="6.8" height="3.8" fill="#ff5252"/>
<rect x="137.1" y="765.0" width="6.8" height="3.8" fill="#ff5252"/>
<rect x="145.1" y="765.0" width="6.8" height="5.0" fill="#ff5252"/>
<rect x="153.1" y="765.0" width="6.8" height="7.1" fill="#ff5252"/>
<rect x="161.1" y="765.0" width="6.8" height="9.0" fill="#ff5252"/>
<rect x="169.1" y="765.0" width="6.8" height="9.0" fill="#ff5252"/>
<rect x="177.1" y="765.0" width="6.8" height="11.1" fill="#ff5252"/>
<rect x="185.1" y="765.0" width="6.8" height="9.3" fill="#ffcdd2"/>
<rect x="193.1" y="765.0" width="6.8" height="8.1" fill="#ffcdd2"/>
<rect x="201.1" y="765.0" width="6.8" height="5.9" fill="#ffcdd2"/>
<rect x="209.1" y="765.0" width="6.8" height="4.9" fill="#ffcdd2"/>
<rect x="217.1" y="765.0" width="6.8" height="4.1" fill="#ffcdd2"/>
<rect x="225.1" y="764.7" width="6.8" height="1.3" fill="#26a69a"/>
<rect x="233.1" y="762.1" width="6.8" height="3.9" fill="#26a69a"/>
<rect x="241.1" y="760.0" width="6.8" height="6.0" fill="#26a69a"/>
<rect x="249.1" y="760.0" width="6.8" height="6.0" fill="#26a69a"/>
<rect x="257.1" y="760.1" width="6.8" height="5.9" fill="#b2dfdb"/>
<rect x="265.1" y="759.1" width="6.8" height="6.9" fill="#26a69a"/>
<rect x="273.1" y="759.2" width="6.8" height="6.8" fill="#b2dfdb"/>
<rect x="281.1" y="759.1" width="6.8" height="6.9" fill="#26a69a"/>
<rect x="289.1" y="760.1" width="6.8" height="5.9" fill="#b2dfdb"/>
<rect x="297.1" y="765.0" width="6.8" height="4.9" fill="#ff5252"/>
<rect x="305.1" y="765.0" width="6.8" height="8.9" fill="#ff5252"/>
<rect x="313.1" y="765.0" width="6.8" height="12.0" fill="#ff5252"/>
<rect x="321.1" y="765.0" width="6.8" height="11.9" fill="#ffcdd2"/>
<rect x="329.1" y="765.0" width="6.8" height="12.0" fill="#ff5252"/>
<rect x="337.1" y="765.0" width="6.8" height="12.9" fill="#ff5252"/>
<rect x="345.1" y="765.0" width="6.8" height="12.9" fill="#ff5252"/>
<rect x="353.1" y="765.0" width="6.8" height="12.8" fill="#ffcdd2"/>
<rect x="361.1" y="765.0" width="6.8" height="11.9" fill="#ffcdd2"/>
<rect x="369.1" y="765.0" width="6.8" height="9.9" fill="#ffcdd2"/>
<rect x="377.1" y="765.0" width="6.8" height="7.9" fill="#ffcdd2"/>
<rect x="385.1" y="765.0" width="6.8" height="6.8" fill="#ffcdd2"/>
<rect x="393.1" y="765.0" width="6.8" height="6.9" fill="#ff5252"/>
<rect x="401.1" y="765.0" width="6.8" height="5.8" fill="#ffcdd2"/>
<rect x="409.1" y="765.0" width="6.8" height="4.8" fill="#ffcdd2"/>
<rect x="417.1" y="765.0" width="6.8" height="3.8" fill="#ffcdd2"/>
<rect x="425.1" y="765.0" width="6.8" height="1.8" fill="#ffcdd2"/>
<rect x="433.1" y="765.0" width="6.8" height="1.3" fill="#ffcdd2"/>
<rect x="441.1" y="764.7" width="6.8" height="1.3" fill="#26a69a"/>
<rect x="449.1" y="764.2" width="6.8" height="1.8" fill="#26a69a"/>
<rect x="457.1" y="764.7" width="6.8" height="1.3" fill="#b2dfdb"/>
<rect x="465.1" y="764.7" width="6.8" height="1.3" fill="#b2dfdb"/>
<rect x="473.1" y="754.1" width="6.8" height="11.9" fill="#26a69a"/>
<rect x="481.1" y="742.1" width="6.8" height="23.9" fill="#26a69a"/>
<rect x="489.1" y="740.0" width="6.8" height="26.0" fill="#26a69a"/>
<rect x="497.1" y="734.1" width="6.8" height="31.9" fill="#26a69a"/>
<rect x="505.1" y="726.1" width="6.8" height="39.9" fill="#26a69a"/>
<rect x="513.1" y="727.1" width="6.8" height="38.9" fill="#b2dfdb"/>
<rect x="521.1" y="732.0" width="6.8" height="34.0" fill="#b2dfdb"/>
<rect x="529.1" y="740.0" width="6.8" height="26.0" fill="#b2dfdb"/>
<rect x="537.1" y="747.1" width="6.8" height="18.9" fill="#b2dfdb"/>
<rect x="545.1" y="752.0" width="6.8" height="14.0" fill="#b2dfdb"/>
<rect x="553.1" y="760.0" width="6.8" height="6.0" fill="#b2dfdb"/>
<rect x="561.1" y="765.0" width="6.8" height="1.3" fill="#ff5252"/>
<rect x="569.1" y="765.0" width="6.8" height="5.9" fill="#ff5252"/>
<rect x="577.1" y="765.0" width="6.8" height="6.9" fill="#ff5252"/>
<rect x="585.1" y="765.0" width="6.8" height="8.0" fill="#ff5252"/>
<rect x="593.1" y="765.0" width="6.8" height="8.0" fill="#ff5252"/>
<rect x="601.1" y="765.0" width="6.8" height="11.0" fill="#ff5252"/>
<rect x="609.1" y="765.0" width="6.8" height="12.0" fill="#ff5252"/>
<rect x="617.1" y="765.0" width="6.8" height="9.9" fill="#ffcdd2"/>
<rect x="625.1" y="765.0" width="6.8" height="12.0" fill="#ff5252"/>
<rect x="633.1" y="765.0" width="6.8" height="14.0" fill="#ff5252"/>
<rect x="641.1" y="765.0" width="6.8" height="16.0" fill="#ff5252"/>
<rect x="649.1" y="765.0" width="6.8" height="16.9" fill="#ff5252"/>
<rect x="657.1" y="765.0" width="6.8" height="16.0" fill="#ffcdd2"/>
<rect x="665.1" y="765.0" width="6.8" height="12.9" fill="#ffcdd2"/>
<rect x="673.1" y="765.0" width="6.8" height="12.0" fill="#ffcdd2"/>
<rect x="681.1" y="765.0" width="6.8" height="9.9" fill="#ffcdd2"/>
<rect x="689.1" y="765.0" width="6.8" height="9.9" fill="#ffcdd2"/>
<rect x="697.1" y="765.0" width="6.8" height="8.9" fill="#ffcdd2"/>
<rect x="705.1" y="765.0" width="6.8" height="8.9" fill="#ffcdd2"/>
<rect x="713.1" y="765.0" width="6.8" height="8.9" fill="#ff5252"/>
<rect x="721.1" y="765.0" width="6.8" height="8.0" fill="#ffcdd2"/>
<rect x="729.1" y="765.0" width="6.8" height="5.9" fill="#ffcdd2"/>
<rect x="737.1" y="765.0" width="6.8" height="3.8" fill="#ffcdd2"/>
<rect x="745.1" y="765.0" width="6.8" height="4.9" fill="#ff5252"/>
<rect x="753.1" y="765.0" width="6.8" height="4.9" fill="#ff5252"/>
<rect x="761.1" y="765.0" width="6.8" height="4.9" fill="#ff5252"/>
<rect x="769.1" y="765.0" width="6.8" height="4.9" fill="#ffcdd2"/>
<rect x="777.1" y="765.0" width="6.8" height="2.9" fill="#ffcdd2"/>
<rect x="785.1" y="765.0" width="6.8" height="1.9" fill="#ffcdd2"/>
<rect x="793.1" y="764.7" width="6.8" height="1.3" fill="#26a69a"/>
<rect x="801.1" y="765.0" width="6.8" height="1.9" fill="#ff5252"/>
<rect x="809.1" y="765.0" width="6.8" height="1.9" fill="#ff5252"/>
<rect x="817.1" y="765.0" width="6.8" height="2.9" fill="#ff5252"/>
<rect x="825.1" y="765.0" width="6.8" height="2.9" fill="#ff5252"/>
<rect x="833.1" y="765.0" width="6.8" height="2.9" fill="#ffcdd2"/>
<rect x="841.1" y="765.0" width="6.8" height="2.9" fill="#ff5252"/>
<rect x="849.1" y="765.0" width="6.8" height="3.8" fill="#ff5252"/>
<rect x="857.1" y="765.0" width="6.8" height="2.8" fill="#ffcdd2"/>
<rect x="865.1" y="765.0" width="6.8" height="1.8" fill="#ffcdd2"/>
<rect x="873.1" y="765.0" width="6.8" height="1.8" fill="#ffcdd2"/>
<rect x="881.1" y="764.2" width="6.8" height="1.8" fill="#26a69a"/>
<rect x="889.1" y="763.1" width="6.8" height="2.9" fill="#26a69a"/>
<rect x="897.1" y="762.1" width="6.8" height="3.9" fill="#26a69a"/>
<rect x="905.1" y="762.1" width="6.8" height="3.9" fill="#26a69a"/>
<rect x="913.1" y="761.1" width="6.8" height="4.9" fill="#26a69a"/>
<rect x="921.1" y="760.0" width="6.8" height="6.0" fill="#26a69a"/>
<rect x="929.1" y="759.1" width="6.8" height="6.9" fill="#26a69a"/>
<rect x="937.1" y="760.0" width="6.8" height="6.0" fill="#b2dfdb"/>
<rect x="945.1" y="760.0" width="6.8" height="6.0" fill="#b2dfdb"/>
<rect x="953.1" y="760.0" width="6.8" height="6.0" fill="#b2dfdb"/>
<rect x="961.1" y="760.0" width="6.8" height="6.0" fill="#26a69a"/>
<rect x="969.1" y="759.1" width="6.8" height="6.9" fill="#26a69a"/>
<rect x="977.1" y="758.1" width="6.8" height="7.9" fill="#26a69a"/>
<rect x="985.1" y="758.1" width="6.8" height="7.9" fill="#26a69a"/>
<rect x="993.1" y="758.1" width="6.8" height="7.9" fill="#26a69a"/>
<rect x="1001.1" y="757.0" width="6.8" height="9.0" fill="#26a69a"/>
<rect x="1009.1" y="758.1" width="6.8" height="7.9" fill="#b2dfdb"/>
<rect x="1017.1" y="759.1" width="6.8" height="6.9" fill="#b2dfdb"/>
<rect x="1025.1" y="760.0" width="6.8" height="6.0" fill="#b2dfdb"/>
<rect x="1033.1" y="761.1" width="6.8" height="4.9" fill="#b2dfdb"/>
<rect x="1041.1" y="761.1" width="6.8" height="4.9" fill="#b2dfdb"/>
<rect x="1049.1" y="761.5" width="6.8" height="4.5" fill="#b2dfdb"/>
<rect x="1057.1" y="761.1" width="6.8" height="4.9" fill="#26a69a"/>
<rect x="1065.1" y="762.1" width="6.8" height="3.9" fill="#b2dfdb"/>
<rect x="1073.1" y="762.7" width="6.8" height="3.3" fill="#b2dfdb"/>
<rect x="1081.1" y="763.3" width="6.8" height="2.7" fill="#b2dfdb"/>
<rect x="1089.1" y="764.3" width="6.8" height="1.7" fill="#b2dfdb"/>
<rect x="1097.1" y="764.7" width="6.8" height="1.3" fill="#b2dfdb"/>
<rect x="1105.1" y="765.0" width="6.8" height="1.9" fill="#ff5252"/>
<rect x="1113.1" y="765.0" width="6.8" height="3.8" fill="#ff5252"/>
<rect x="1121.1" y="765.0" width="6.8" height="4.9" fill="#ff5252"/>
<rect x="1129.1" y="765.0" width="6.8" height="5.9" fill="#ff5252"/>
<rect x="1137.1" y="765.0" width="6.8" height="6.9" fill="#ff5252"/>
<rect x="1145.1" y="765.0" width="6.8" height="6.9" fill="#ff5252"/>
<rect x="1153.1" y="765.0" width="6.8" height="6.9" fill="#ff5252"/>
<rect x="1161.1" y="765.0" width="6.8" height="6.8" fill="#ffcdd2"/>
<rect x="1169.1" y="765.0" width="6.8" height="5.9" fill="#ffcdd2"/>
<rect x="1177.1" y="765.0" width="6.8" height="5.9" fill="#ffcdd2"/>
<rect x="1185.1" y="765.0" width="6.8" height="5.9" fill="#ff5252"/>
<rect x="1193.1" y="765.0" width="6.8" height="6.9" fill="#ff5252"/>
<rect x="1201.1" y="765.0" width="6.8" height="8.0" fill="#ff5252"/>
<rect x="1209.1" y="765.0" width="6.8" height="3.8" fill="#ffcdd2"/>
<rect x="1217.1" y="765.0" width="6.8" height="3.8" fill="#ffcdd2"/>
<rect x="1225.1" y="765.0" width="6.8" height="4.9" fill="#ff5252"/>
<rect x="1233.1" y="765.0" width="6.8" height="4.9" fill="#ff5252"/>
<rect x="1241.1" y="765.0" width="6.8" height="5.9" fill="#ff5252"/>
<rect x="1249.1" y="765.0" width="6.8" height="4.9" fill="#ffcdd2"/>
<rect x="1257.1" y="765.0" width="6.8" height="4.9" fill="#ffcdd2"/>
<rect x="1265.1" y="765.0" width="6.8" height="4.9" fill="#ffcdd2"/>
<rect x="1273.1" y="765.0" width="6.8" height="2.9" fill="#ffcdd2"/>
<rect x="1281.1" y="765.0" width="6.8" height="2.9" fill="#ffcdd2"/>
<line x1="13" x2="1717" y1="765.5" y2="765.5" stroke="#000" stroke-opacity="0.33" stroke-width="1.1" stroke-dasharray="5,6"/>
<polyline points="12.5,772.5 20.5,773.3 28.5,774.3 36.5,774.2 44.5,772.1 52.5,770.3 60.5,768.7 68.5,766.7 76.5,764.2 84.5,763.0 92.5,762.8 100.5,764.8 108.5,765.7 116.5,766.1 124.5,766.9 132.5,769.1 140.5,770.3 148.5,771.8 156.5,776.4 164.5,780.0 172.5,782.4 180.5,785.7 188.5,786.4 196.5,786.4 204.5,786.2 212.5,786.1 220.5,785.4 228.5,781.5 236.5,777.9 244.5,774.6 252.5,773.3 260.5,772.7 268.5,769.4 276.5,768.8 284.5,767.0 292.5,766.6 300.5,774.0 308.5,782.7 316.5,787.6 324.5,790.6 332.5,793.6 340.5,796.7 348.5,800.3 356.5,803.1 364.5,804.2 372.5,803.9 380.5,803.7 388.5,804.5 396.5,806.0 404.5,806.4 412.5,805.8 420.5,805.8 428.5,803.9 436.5,803.1 444.5,802.7 452.5,801.5 460.5,802.1 468.5,802.1 476.5,786.4 484.5,770.6 492.5,760.9 500.5,748.8 508.5,731.2 516.5,721.5 524.5,718.5 532.5,720.9 540.5,723.1 548.5,725.2 556.5,731.2 564.5,736.7 572.5,743.0 580.5,745.2 588.5,747.6 596.5,749.4 604.5,753.6 612.5,758.5 620.5,758.5 628.5,762.1 636.5,769.4 644.5,775.5 652.5,779.7 660.5,781.8 668.5,782.1 676.5,783.3 684.5,784.5 692.5,785.4 700.5,786.6 708.5,788.2 716.5,790.2 724.5,791.5 732.5,790.0 740.5,789.2 748.5,790.6 756.5,792.1 764.5,793.4 772.5,793.3 780.5,791.8 788.5,790.8 796.5,790.4 804.5,790.6 812.5,791.2 820.5,792.1 828.5,792.4 836.5,793.0 844.5,793.6 852.5,795.5 860.5,795.5 868.5,794.5 876.5,793.6 884.5,792.2 892.5,790.4 900.5,789.2 908.5,787.9 916.5,785.8 924.5,782.7 932.5,780.7 940.5,779.7 948.5,778.5 956.5,777.9 964.5,776.1 972.5,772.8 980.5,771.0 988.5,769.2 996.5,766.7 1004.5,763.3 1012.5,762.7 1020.5,762.1 1028.5,761.2 1036.5,760.7 1044.5,760.3 1052.5,760.7 1060.5,758.8 1068.5,758.2 1076.5,758.7 1084.5,758.5 1092.5,758.8 1100.5,760.3 1108.5,761.5 1116.5,764.8 1124.5,766.4 1132.5,769.0 1140.5,770.6 1148.5,771.8 1156.5,774.0 1164.5,774.5 1172.5,775.2 1180.5,776.1 1188.5,778.1 1196.5,780.3 1204.5,782.5 1212.5,779.3 1220.5,779.7 1228.5,781.5 1236.5,782.7 1244.5,784.5 1252.5,784.8 1260.5,785.2 1268.5,785.8 1276.5,785.4 1284.5,785.4" fill="none" stroke="#2962ff" stroke-width="1.3" stroke-linejoin="round" stroke-linecap="round" />
<polyline points="12.5,762.4 20.5,764.8 28.5,766.9 36.5,768.2 44.5,769.1 52.5,769.5 60.5,769.1 68.5,768.5 76.5,767.6 84.5,766.7 92.5,766.1 100.5,765.8 108.5,765.8 116.5,765.8 124.5,766.1 132.5,766.7 140.5,767.6 148.5,768.5 156.5,769.7 164.5,771.8 172.5,773.9 180.5,776.1 188.5,778.4 196.5,780.0 204.5,781.5 212.5,782.1 220.5,783.0 228.5,782.7 236.5,781.8 244.5,780.3 252.5,778.8 260.5,777.6 268.5,776.1 276.5,774.8 284.5,773.3 292.5,771.8 300.5,772.4 308.5,774.8 316.5,777.3 324.5,780.3 332.5,783.3 340.5,785.8 348.5,788.8 356.5,791.8 364.5,794.0 372.5,796.1 380.5,797.3 388.5,798.7 396.5,800.3 404.5,801.2 412.5,802.1 420.5,802.7 428.5,803.3 436.5,803.3 444.5,803.1 452.5,803.0 460.5,802.8 468.5,802.7 476.5,799.7 484.5,794.0 492.5,787.0 500.5,779.1 508.5,768.8 516.5,759.7 524.5,752.4 532.5,745.8 540.5,741.3 548.5,738.1 556.5,736.4 564.5,736.4 572.5,738.1 580.5,739.7 588.5,741.3 596.5,743.0 604.5,745.2 612.5,747.9 620.5,749.8 628.5,752.4 636.5,755.8 644.5,759.7 652.5,763.9 660.5,767.0 668.5,770.0 676.5,772.4 684.5,774.8 692.5,776.9 700.5,778.8 708.5,780.7 716.5,782.7 724.5,784.3 732.5,785.5 740.5,786.4 748.5,787.3 756.5,788.4 764.5,789.4 772.5,790.0 780.5,790.2 788.5,790.2 796.5,790.2 804.5,790.4 812.5,790.6 820.5,790.8 828.5,791.2 836.5,791.8 844.5,792.4 852.5,793.0 860.5,793.0 868.5,793.4 876.5,793.4 884.5,793.0 892.5,792.4 900.5,791.8 908.5,791.0 916.5,789.8 924.5,788.2 932.5,787.0 940.5,785.8 948.5,784.2 956.5,782.7 964.5,781.5 972.5,779.9 980.5,778.1 988.5,776.4 996.5,774.5 1004.5,772.4 1012.5,770.4 1020.5,768.8 1028.5,767.2 1036.5,766.0 1044.5,764.8 1052.5,763.9 1060.5,763.0 1068.5,762.1 1076.5,761.5 1084.5,760.7 1092.5,760.3 1100.5,760.4 1108.5,760.7 1116.5,761.5 1124.5,762.5 1132.5,763.7 1140.5,765.2 1148.5,766.4 1156.5,767.8 1164.5,769.2 1172.5,770.6 1180.5,771.8 1188.5,773.0 1196.5,774.5 1204.5,776.1 1212.5,776.7 1220.5,777.3 1228.5,778.1 1236.5,779.1 1244.5,780.1 1252.5,781.2 1260.5,781.9 1268.5,782.7 1276.5,783.1 1284.5,783.5" fill="none" stroke="#ff6d00" stroke-width="1.3" stroke-linejoin="round" stroke-linecap="round" />
</g>
<text x="1728.30" y="686.25" font-size="15.6" fill="#131722" textLength="52.00" lengthAdjust="spacingAndGlyphs"  stroke="#131722" stroke-width="0.22">0.01000</text>
<text x="1728.30" y="646.25" font-size="15.6" fill="#131722" textLength="52.00" lengthAdjust="spacingAndGlyphs"  stroke="#131722" stroke-width="0.22">0.01500</text>
<text x="1728.30" y="605.25" font-size="15.6" fill="#131722" textLength="52.00" lengthAdjust="spacingAndGlyphs"  stroke="#131722" stroke-width="0.22">0.02000</text>
<text x="1728.30" y="564.25" font-size="15.6" fill="#131722" textLength="52.00" lengthAdjust="spacingAndGlyphs"  stroke="#131722" stroke-width="0.22">0.02500</text>
<text x="1728.30" y="524.25" font-size="15.6" fill="#131722" textLength="52.00" lengthAdjust="spacingAndGlyphs"  stroke="#131722" stroke-width="0.22">0.03000</text>
<text x="1728.30" y="483.25" font-size="15.6" fill="#131722" textLength="52.00" lengthAdjust="spacingAndGlyphs"  stroke="#131722" stroke-width="0.22">0.03500</text>
<text x="1728.30" y="443.25" font-size="15.6" fill="#131722" textLength="52.00" lengthAdjust="spacingAndGlyphs"  stroke="#131722" stroke-width="0.22">0.04000</text>
<text x="1728.30" y="402.25" font-size="15.6" fill="#131722" textLength="52.00" lengthAdjust="spacingAndGlyphs"  stroke="#131722" stroke-width="0.22">0.04500</text>
<text x="1728.30" y="362.25" font-size="15.6" fill="#131722" textLength="52.00" lengthAdjust="spacingAndGlyphs"  stroke="#131722" stroke-width="0.22">0.05000</text>
<text x="1728.30" y="321.25" font-size="15.6" fill="#131722" textLength="52.00" lengthAdjust="spacingAndGlyphs"  stroke="#131722" stroke-width="0.22">0.05500</text>
<text x="1728.30" y="281.25" font-size="15.6" fill="#131722" textLength="52.00" lengthAdjust="spacingAndGlyphs"  stroke="#131722" stroke-width="0.22">0.06000</text>
<text x="1728.30" y="240.25" font-size="15.6" fill="#131722" textLength="52.00" lengthAdjust="spacingAndGlyphs"  stroke="#131722" stroke-width="0.22">0.06500</text>
<text x="1728.30" y="200.25" font-size="15.6" fill="#131722" textLength="52.00" lengthAdjust="spacingAndGlyphs"  stroke="#131722" stroke-width="0.22">0.07000</text>
<text x="1728.30" y="159.25" font-size="15.6" fill="#131722" textLength="52.00" lengthAdjust="spacingAndGlyphs"  stroke="#131722" stroke-width="0.22">0.07500</text>
<text x="1728.30" y="119.25" font-size="15.6" fill="#131722" textLength="52.00" lengthAdjust="spacingAndGlyphs"  stroke="#131722" stroke-width="0.22">0.08000</text>
<text x="1728.30" y="78.25" font-size="15.6" fill="#131722" textLength="52.00" lengthAdjust="spacingAndGlyphs"  stroke="#131722" stroke-width="0.22">0.08500</text>
<text x="1728.30" y="733.25" font-size="15.6" fill="#131722" textLength="52.00" lengthAdjust="spacingAndGlyphs"  stroke="#131722" stroke-width="0.22">0.00500</text>
<text x="1729.60" y="811.25" font-size="15.6" fill="#131722" textLength="60.00" lengthAdjust="spacingAndGlyphs"  stroke="#131722" stroke-width="0.22">−0.00500</text>
<defs><clipPath id="cb"><rect x="1717" y="700" width="98" height="115.9"/></clipPath></defs>
<path  d="M1718 41.0H1785.5Q1788.0 41.0 1788.0 43.5V59.5Q1788.0 62.0 1785.5 62.0H1718Z" fill="#2962ff"/>
<text x="1728.80" y="57.95" font-size="15.6" fill="#ffffff" textLength="53.00" lengthAdjust="spacingAndGlyphs"  stroke="#ffffff" stroke-width="0.22">0.08758</text>
<path  d="M1718 301.0H1785.5Q1788.0 301.0 1788.0 303.5V319.5Q1788.0 322.0 1785.5 322.0H1718Z" fill="#2962ff"/>
<text x="1728.80" y="317.95" font-size="15.6" fill="#ffffff" textLength="53.00" lengthAdjust="spacingAndGlyphs"  stroke="#ffffff" stroke-width="0.22">0.05551</text>
<path  d="M1718 406.0H1785.5Q1788.0 406.0 1788.0 408.5V424.5Q1788.0 427.0 1785.5 427.0H1718Z" fill="#000000"/>
<text x="1728.80" y="422.95" font-size="15.6" fill="#ffffff" textLength="53.00" lengthAdjust="spacingAndGlyphs"  stroke="#ffffff" stroke-width="0.22">0.04255</text>
<path  d="M1718 459.0H1785.5Q1788.0 459.0 1788.0 461.5V477.5Q1788.0 480.0 1785.5 480.0H1718Z" fill="#000000"/>
<text x="1728.80" y="475.95" font-size="15.6" fill="#ffffff" textLength="53.00" lengthAdjust="spacingAndGlyphs"  stroke="#ffffff" stroke-width="0.22">0.03408</text>
<path  d="M1718 480.0H1785.5Q1788.0 480.0 1788.0 482.5V498.5Q1788.0 501.0 1785.5 501.0H1718Z" fill="#2962ff"/>
<text x="1728.80" y="496.95" font-size="15.6" fill="#ffffff" textLength="53.00" lengthAdjust="spacingAndGlyphs"  stroke="#ffffff" stroke-width="0.22">0.03339</text>
<path  d="M1718 515.0H1785.5Q1788.0 515.0 1788.0 517.5V533.5Q1788.0 536.0 1785.5 536.0H1718Z" fill="#43a047"/>
<text x="1728.80" y="531.95" font-size="15.6" fill="#ffffff" textLength="53.00" lengthAdjust="spacingAndGlyphs"  stroke="#ffffff" stroke-width="0.22">0.02533</text>
<path  d="M1718 537.0H1785.5Q1788.0 537.0 1788.0 539.5V555.5Q1788.0 558.0 1785.5 558.0H1718Z" fill="#000000"/>
<text x="1728.80" y="553.95" font-size="15.6" fill="#ffffff" textLength="53.00" lengthAdjust="spacingAndGlyphs"  stroke="#ffffff" stroke-width="0.22">0.02484</text>
<path  d="M1718 558.0H1785.5Q1788.0 558.0 1788.0 560.5V576.5Q1788.0 579.0 1785.5 579.0H1718Z" fill="#ff6d00"/>
<text x="1728.80" y="574.95" font-size="15.6" fill="#ffffff" textLength="53.00" lengthAdjust="spacingAndGlyphs"  stroke="#ffffff" stroke-width="0.22">0.02245</text>
<path  d="M1718 579.0H1785.5Q1788.0 579.0 1788.0 581.5V597.5Q1788.0 600.0 1785.5 600.0H1718Z" fill="#f23645"/>
<text x="1728.80" y="595.95" font-size="15.6" fill="#ffffff" textLength="53.00" lengthAdjust="spacingAndGlyphs"  stroke="#ffffff" stroke-width="0.22">0.02123</text>
<path  d="M1718 600.0H1785.5Q1788.0 600.0 1788.0 602.5V618.5Q1788.0 621.0 1785.5 621.0H1718Z" fill="#2962ff"/>
<text x="1728.80" y="616.95" font-size="15.6" fill="#ffffff" textLength="53.00" lengthAdjust="spacingAndGlyphs"  stroke="#ffffff" stroke-width="0.22">0.02000</text>
<path clip-path="url(#cb)" d="M1718 756.8H1793.5Q1796.0 756.8 1796.0 759.3V775.3Q1796.0 777.8 1793.5 777.8H1718Z" fill="#ffcdd2"/>
<text x="1729.60" y="774.05" font-size="15.6" fill="#131722" textLength="60.00" lengthAdjust="spacingAndGlyphs" clip-path="url(#cb)" stroke="#131722" stroke-width="0.22">−0.00022</text>
<path clip-path="url(#cb)" d="M1718 778.2H1793.5Q1796.0 778.2 1796.0 780.7V796.7Q1796.0 799.2 1793.5 799.2H1718Z" fill="#ff6d00"/>
<text x="1729.60" y="795.45" font-size="15.6" fill="#ffffff" textLength="60.00" lengthAdjust="spacingAndGlyphs" clip-path="url(#cb)" stroke="#ffffff" stroke-width="0.22">−0.00232</text>
<path clip-path="url(#cb)" d="M1718 799.7H1793.5Q1796.0 799.7 1796.0 802.2V818.2Q1796.0 820.7 1793.5 820.7H1718Z" fill="#2962ff"/>
<text x="1729.60" y="816.95" font-size="15.6" fill="#ffffff" textLength="60.00" lengthAdjust="spacingAndGlyphs" clip-path="url(#cb)" stroke="#ffffff" stroke-width="0.22">−0.00253</text>
<text x="216.90" y="839.70" font-size="15.4" fill="#131722" textLength="22.84" lengthAdjust="spacingAndGlyphs"  stroke="#131722" stroke-width="0.22">Oct</text>
<text x="464.60" y="839.70" font-size="15.4" fill="#131722" textLength="23.98" lengthAdjust="spacingAndGlyphs"  stroke="#131722" stroke-width="0.22">Nov</text>
<text x="704.40" y="839.70" font-size="15.4" fill="#131722" textLength="23.18" lengthAdjust="spacingAndGlyphs"  stroke="#131722" stroke-width="0.22">Dec</text>
<text x="947.40" y="839.70" font-size="15.4" fill="#131722" textLength="33.67" lengthAdjust="spacingAndGlyphs" font-weight="bold" >2026</text>
<text x="1200.10" y="839.70" font-size="15.4" fill="#131722" textLength="24.14" lengthAdjust="spacingAndGlyphs"  stroke="#131722" stroke-width="0.22">Feb</text>
<text x="1423.70" y="839.70" font-size="15.4" fill="#131722" textLength="24.73" lengthAdjust="spacingAndGlyphs"  stroke="#131722" stroke-width="0.22">Mar</text>
<text x="1672.50" y="839.70" font-size="15.4" fill="#131722" textLength="22.74" lengthAdjust="spacingAndGlyphs"  stroke="#131722" stroke-width="0.22">Apr</text>
<text y="25.20" font-size="17.5" fill="#131722" stroke="#131722" stroke-width="0.22"><tspan x="13.60" textLength="140.65" lengthAdjust="spacingAndGlyphs">amiraoluwaseyifunmi</tspan> <tspan x="160.50" textLength="50.43" lengthAdjust="spacingAndGlyphs">created</tspan> <tspan x="216.96" textLength="28.41" lengthAdjust="spacingAndGlyphs">with</tspan> <tspan x="250.80" textLength="117.23" lengthAdjust="spacingAndGlyphs">TradingView.com,</tspan> <tspan x="374.90" textLength="23.14" lengthAdjust="spacingAndGlyphs">Feb</tspan> <tspan x="404.20" textLength="18.50" lengthAdjust="spacingAndGlyphs">10,</tspan> <tspan x="428.90" textLength="30.16" lengthAdjust="spacingAndGlyphs">2026</tspan> <tspan x="465.60" textLength="34.33" lengthAdjust="spacingAndGlyphs">19:06</tspan> <tspan x="506.80" textLength="26.14" lengthAdjust="spacingAndGlyphs">UTC</tspan></text>
<text x="264.70" y="79.50" font-size="10.6" fill="#131722" stroke="#131722" stroke-width="0.5">∅</text>
<g fill="#141416"><path d="M15.3 878.3H30.2V897H22.9V885.9H15.3Z"/><circle cx="36.8" cy="882.1" r="3.8"/><path d="M44.4 878.3H52.85L45.7 897H37.1Z"/></g>
<text x="61.90" y="897.00" font-size="26.3" fill="#141416" textLength="151.14" lengthAdjust="spacingAndGlyphs" font-weight="bold" stroke="#141416" stroke-width="0.3">TradingView</text></svg>
</body></html>
